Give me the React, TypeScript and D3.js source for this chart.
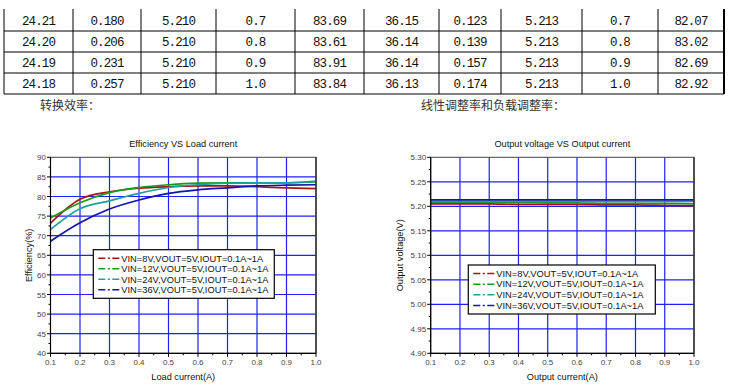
import React from "react";
import * as d3 from "d3";

// ---- table rows (IOUT 0.7A..1.0A) ----
const vin24 = ["24.21", "24.20", "24.19", "24.18"];
const iin24 = ["0.180", "0.206", "0.231", "0.257"];
const vout24 = ["5.210", "5.210", "5.210", "5.210"];
const iout24 = ["0.7", "0.8", "0.9", "1.0"];
const eff24 = ["83.69", "83.61", "83.91", "83.84"];
const vin36 = ["36.15", "36.14", "36.14", "36.13"];
const iin36 = ["0.123", "0.139", "0.157", "0.174"];
const vout36 = ["5.213", "5.213", "5.213", "5.213"];
const iout36 = ["0.7", "0.8", "0.9", "1.0"];
const eff36 = ["82.07", "83.02", "82.69", "82.92"];

// ---- curves ----
const loadCurrent = [0.1, 0.2, 0.3, 0.4, 0.5, 0.6, 0.7, 0.8, 0.9, 1.0];
const eff8V = [73.2, 79.3, 81.2, 82.1, 82.5, 82.7, 82.7, 82.5, 82.2, 82.0];
const eff12V = [74.5, 78.4, 81.0, 82.3, 83.0, 83.4, 83.5, 83.5, 83.5, 83.7];
const eff24V = [71.6, 76.9, 78.9, 80.8, 82.3, 83.0, 83.4, 83.5, 83.5, 83.9];
const eff36V = [68.6, 73.3, 76.8, 79.1, 80.8, 81.7, 82.2, 82.7, 82.9, 83.0];

const vout8V = [5.205, 5.205, 5.205, 5.204, 5.204, 5.204, 5.203, 5.203, 5.202, 5.201];
const vout12V = [5.208, 5.208, 5.208, 5.208, 5.207, 5.207, 5.206, 5.206, 5.206, 5.205];
const vout24V = [5.210, 5.210, 5.210, 5.210, 5.210, 5.210, 5.210, 5.210, 5.210, 5.210];
const vout36V = [5.213, 5.213, 5.213, 5.213, 5.213, 5.213, 5.213, 5.213, 5.213, 5.213];

const seriesNames = [
  "VIN=8V,VOUT=5V,IOUT=0.1A~1A",
  "VIN=12V,VOUT=5V,IOUT=0.1A~1A",
  "VIN=24V,VOUT=5V,IOUT=0.1A~1A",
  "VIN=36V,VOUT=5V,IOUT=0.1A~1A",
];
const colors = ["#a31515", "#1a9a1a", "#1f9f9f", "#1414a8"];

const FONT = "Liberation Sans, Arial, sans-serif";

function Table() {
  const cols = [vin24, iin24, vout24, iout24, eff24, vin36, iin36, vout36, iout36, eff36];
  const xs = [4, 73, 141, 216, 295, 364, 439, 501, 582, 658, 724];
  const ys = [9, 31, 52, 73, 94];
  return (
    <g>
      {xs.map((x, i) => (
        <line key={"v" + i} x1={x} x2={x} y1={ys[0]} y2={ys[4]} stroke="#000"
          strokeWidth={i === xs.length - 1 ? 2 : 1} />
      ))}
      {ys.slice(1).map((y, i) => (
        <line key={"h" + i} x1={xs[0]} x2={xs[10]} y1={y} y2={y} stroke="#000" strokeWidth={1} />
      ))}
      {cols.map((col, c) =>
        col.map((t, r) => (
          <text key={c + "-" + r} x={(xs[c] + xs[c + 1]) / 2} y={(ys[r] + ys[r + 1]) / 2 + 4.5}
            textAnchor="middle" fontFamily="Liberation Mono, monospace" fontSize={12.5}
            letterSpacing={-0.9} fill="#111">{t}</text>
        ))
      )}
      <text x={40} y={110} fontFamily="Noto Sans CJK SC" fontSize={12} fill="#333">转换效率：</text>
      <text x={421} y={110} fontFamily="Noto Sans CJK SC" fontSize={12} fill="#333">线性调整率和负载调整率：</text>
    </g>
  );
}

type ChartProps = {
  left: number; right: number; top: number; bottom: number;
  yDomain: [number, number]; yStep: number; yFmt: (v: number) => string;
  series: number[][]; title: string; xTitle: string; yTitle: string; yTitleX: number;
  legend: { x: number; y: number; w: number; h: number };
};

function Chart(p: ChartProps) {
  const x = d3.scaleLinear().domain([0.1, 1.0]).range([p.left, p.right]);
  const y = d3.scaleLinear().domain(p.yDomain).range([p.bottom, p.top]);
  const nY = Math.round((p.yDomain[1] - p.yDomain[0]) / p.yStep);
  const yTicks = d3.range(nY + 1).map((i) => p.yDomain[0] + i * p.yStep);
  const yMinor = d3.range(nY).map((i) => p.yDomain[0] + (i + 0.5) * p.yStep);
  const xTicks = loadCurrent;
  const xMinor = loadCurrent.slice(0, -1).map((v) => v + 0.05);
  const curve = d3.line<[number, number]>()
    .x((d) => x(d[0])).y((d) => y(d[1])).curve(d3.curveMonotoneX);
  const cx = (p.left + p.right) / 2;
  const gridX = xTicks.slice(1, xTicks.length - 1);
  const gridY = yTicks.slice(1, yTicks.length - 1);
  const gridPath =
    gridX.map((t) => `M${x(t)},${p.top}V${p.bottom}`).join("") +
    gridY.map((t) => `M${p.left},${y(t)}H${p.right}`).join("");
  return (
    <g>
      <path d={gridPath} fill="none" stroke="#2020ff" strokeWidth={1.2} />
      {p.series.map((s, i) => (
        <path key={"s" + i} d={curve(loadCurrent.map((v, j) => [v, s[j]]) as [number, number][]) || ""}
          fill="none" stroke={colors[i]} strokeWidth={1.7} />
      ))}
      <rect x={p.left} y={p.top} width={p.right - p.left} height={p.bottom - p.top}
        fill="none" stroke="#444" strokeWidth={1} />
      <line x1={p.right} x2={p.right} y1={p.top} y2={p.bottom} stroke="#333" strokeWidth={1.5} />
      <line x1={p.left} x2={p.left} y1={p.top} y2={p.bottom} stroke="#000" strokeWidth={1.2} />
      <line x1={p.left} x2={p.right} y1={p.bottom} y2={p.bottom} stroke="#000" strokeWidth={1.2} />
      {yTicks.map((t, i) => (
        <g key={"yt" + i}>
          <line x1={p.left - 3.5} x2={p.left} y1={y(t)} y2={y(t)} stroke="#000" />
          <text x={p.left - 4.5} y={y(t) + 3} textAnchor="end" fontFamily={FONT} fontSize={8} fill="#444">{p.yFmt(t)}</text>
        </g>
      ))}
      {yMinor.map((t, i) => (
        <line key={"ym" + i} x1={p.left - 2} x2={p.left} y1={y(t)} y2={y(t)} stroke="#000" />
      ))}
      {xTicks.map((t, i) => (
        <g key={"xt" + i}>
          <line x1={x(t)} x2={x(t)} y1={p.bottom} y2={p.bottom + 3.5} stroke="#000" />
          <text x={x(t)} y={p.bottom + 12} textAnchor="middle" fontFamily={FONT} fontSize={8} fill="#444">{t.toFixed(1)}</text>
        </g>
      ))}
      {xMinor.map((t, i) => (
        <line key={"xm" + i} x1={x(t)} x2={x(t)} y1={p.bottom} y2={p.bottom + 2} stroke="#000" />
      ))}
      <text x={cx} y={147} textAnchor="middle" fontFamily={FONT} fontSize={9.2} fill="#111">{p.title}</text>
      <text x={cx} y={380} textAnchor="middle" fontFamily={FONT} fontSize={9.2} fill="#111">{p.xTitle}</text>
      <text transform={`translate(${p.yTitleX},${(p.top + p.bottom) / 2}) rotate(-90)`} textAnchor="middle"
        fontFamily={FONT} fontSize={9.2} fill="#111">{p.yTitle}</text>
      <rect x={p.legend.x} y={p.legend.y} width={p.legend.w} height={p.legend.h} fill="#fff" stroke="#000" strokeWidth={1.2} />
      {seriesNames.map((n, i) => {
        const ly = p.legend.y + 8.5 + i * (p.legend.h - 17) / 3;
        return (
          <g key={"lg" + i}>
            <line x1={p.legend.x + 5} x2={p.legend.x + 27} y1={ly} y2={ly} stroke={colors[i]}
              strokeWidth={1.5} strokeDasharray="7 2.5 2 2.5" />
            <text x={p.legend.x + 28} y={ly + 3.3} fontFamily={FONT} fontSize={9.3} fill="#111">{n}</text>
          </g>
        );
      })}
    </g>
  );
}

export default function App() {
  return (
    <svg width={732} height={390} style={{ position: "absolute", left: 0, top: 0, background: "#fff" }}>
      <Table />
      <Chart left={50.5} right={316} top={157.3} bottom={353.3} yDomain={[40, 90]} yStep={5}
        yFmt={(v) => String(Math.round(v))} series={[eff8V, eff12V, eff24V, eff36V]}
        title="Efficiency VS Load current" xTitle="Load current(A)" yTitle="Efficiency(%)" yTitleX={32}
        legend={{ x: 93.3, y: 249.7, w: 181, h: 48.6 }} />
      <Chart left={430.7} right={694} top={157.3} bottom={353.3} yDomain={[4.9, 5.3]} yStep={0.05}
        yFmt={(v) => v.toFixed(2)} series={[vout8V, vout12V, vout24V, vout36V]}
        title="Output voltage VS Output current" xTitle="Output current(A)" yTitle="Output voltage(V)" yTitleX={403}
        legend={{ x: 468.3, y: 265, w: 187, h: 49 }} />
    </svg>
  );
}
